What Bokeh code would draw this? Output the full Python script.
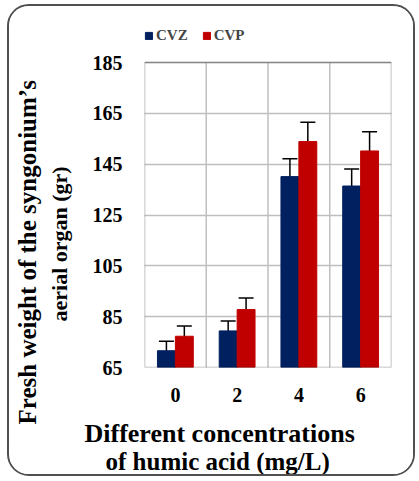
from bokeh.plotting import figure
from bokeh.models import (FactorRange, Range1d, ColumnDataSource, Whisker, TeeHead,
                          FixedTicker, Legend, LegendItem, Title, BoxAnnotation)
from bokeh.transform import dodge
from bokeh.embed import file_html
from bokeh.resources import INLINE

# Humic acid concentrations (mg/L) and fresh weight of aerial organ (gr)
concentrations = ["0", "2", "4", "6"]
cvz = [71.6, 79.4, 140.1, 136.4]
cvz_err = [3.7, 3.9, 7.0, 6.7]
cvp = [77.3, 87.8, 153.9, 150.2]
cvp_err = [4.0, 4.5, 7.6, 7.6]
y_ticks = [65, 85, 105, 125, 145, 165, 185]

NAVY = "#002060"
RED = "#C00000"
GRID = "#bfbfbf"
FONT = "Liberation Serif"

src = ColumnDataSource(dict(
    cat=concentrations,
    cvz=cvz, cvz_lo=[v - e for v, e in zip(cvz, cvz_err)], cvz_hi=[v + e for v, e in zip(cvz, cvz_err)],
    cvp=cvp, cvp_lo=[v - e for v, e in zip(cvp, cvp_err)], cvp_hi=[v + e for v, e in zip(cvp, cvp_err)],
))

# canvas geometry (pixels)
W, H = 408, 472
LEFT, RIGHT, BOTTOM = 135, 26, 111
TOP = 6                  # frame reaches up to hold the legend
BOX_H = 305              # pixel height of the 65..185 value box
frame_h = H - TOP - BOTTOM
y_lo, y_hi = y_ticks[0], y_ticks[-1]
y_end = y_lo + (y_hi - y_lo) * frame_h / BOX_H

p = figure(width=W, height=H, output_backend="svg", toolbar_location=None,
           x_range=FactorRange(factors=concentrations, range_padding=0),
           y_range=Range1d(y_lo, y_end),
           min_border_left=LEFT, min_border_right=RIGHT, min_border_top=TOP,
           min_border_bottom=BOTTOM,
           styles={"margin-left": "7px", "margin-top": "4px",
                   "border": "2px solid #505050", "border-radius": "22px",
                   "overflow": "hidden"})
p.background_fill_color = "white"
p.border_fill_color = "white"
p.outline_line_color = None

# vertical separators between concentration groups
bounds = list(range(1, len(concentrations)))
p.segment(x0=bounds, y0=y_lo, x1=bounds, y1=y_hi, line_color=GRID, line_width=1.5,
          level="underlay")

off = 0.145
bw = 0.29
r1 = p.vbar(x=dodge("cat", -off, range=p.x_range), top="cvz", bottom=y_lo, width=bw,
            source=src, fill_color=NAVY, line_color=NAVY)
r2 = p.vbar(x=dodge("cat", off, range=p.x_range), top="cvp", bottom=y_lo, width=bw,
            source=src, fill_color=RED, line_color=RED)

for key, o in (("cvz", -off), ("cvp", off)):
    w = Whisker(base=dodge("cat", o, range=p.x_range), upper=key + "_hi", lower=key + "_lo",
                source=src, line_color="black", line_width=1.5,
                upper_head=TeeHead(size=15, line_color="black", line_width=1.5),
                lower_head=TeeHead(size=15, line_color="black", line_width=1.5))
    p.add_layout(w)

# black box around the value area
p.add_layout(BoxAnnotation(bottom=y_lo, top=y_hi, fill_alpha=0, line_color="black",
                           line_width=1.6, level="overlay"))

# axes: no ticks or axis lines, bold serif labels
p.yaxis.ticker = FixedTicker(ticks=y_ticks)
for ax in (p.xaxis[0], p.yaxis[0]):
    ax.axis_line_color = None
    ax.major_tick_line_color = None
    ax.minor_tick_line_color = None
    ax.major_label_text_font = FONT
    ax.major_label_text_font_style = "bold"
    ax.major_label_text_font_size = "20px"
    ax.major_label_text_color = "black"
p.yaxis.major_label_standoff = 16
p.xaxis.major_label_standoff = 14

p.ygrid.ticker = FixedTicker(ticks=y_ticks)
p.ygrid.grid_line_color = GRID
p.ygrid.grid_line_width = 1.5
p.xgrid.grid_line_color = None

# legend above the value box
legend = Legend(items=[LegendItem(label="CVZ", renderers=[r1]),
                       LegendItem(label="CVP", renderers=[r2])],
                orientation="horizontal", location=(0, BOX_H + 18),
                label_text_font=FONT, label_text_font_style="bold", label_text_font_size="15px",
                glyph_width=9, glyph_height=9, label_standoff=3, spacing=14,
                padding=0, margin=0, border_line_color=None, background_fill_alpha=0)
p.add_layout(legend, "center")

# axis titles (two lines each)
bold = dict(text_font=FONT, text_font_style="bold", text_color="black", align="left")
p.add_layout(Title(text="aerial organ (gr)", text_font_size="22px",
                   offset=46, standoff=36, **bold), "left")
p.add_layout(Title(text="Fresh weight of the syngonium\u2019s", text_font_size="25px",
                   offset=-57, standoff=-28, **bold), "left")
p.add_layout(Title(text="Different concentrations", text_font_size="26px",
                   offset=-60, standoff=24, **bold), "below")
p.add_layout(Title(text="of humic acid (mg/L)", text_font_size="25px",
                   offset=-39, standoff=-30, **bold), "below")

open("out.html", "w").write(file_html(p, INLINE))
